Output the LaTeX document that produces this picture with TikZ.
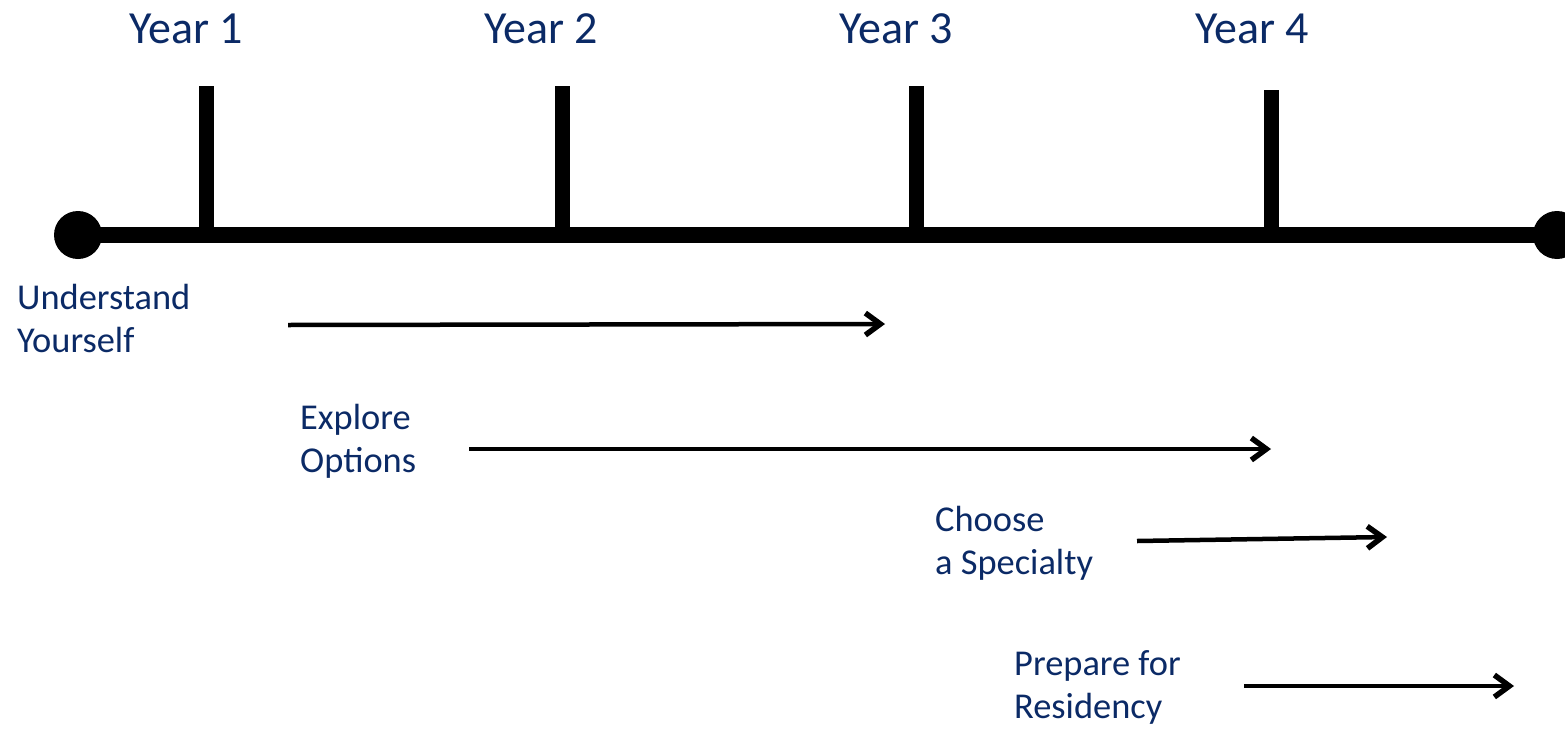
\documentclass[tikz,border=0pt]{standalone}
\usepackage{fontspec}
\setmainfont{Carlito}
\usetikzlibrary{arrows.meta}
\definecolor{navy}{HTML}{0B2A66}
\tikzset{
  axis/.style={line width=16pt},
  tick/.style={line width=15pt},
  endpt/.style={circle, fill=black, minimum size=48pt, inner sep=0pt},
  yearlbl/.style={text=navy, font=\fontsize{46}{55}\selectfont, anchor=base, inner sep=0pt},
  phase/.style={text=navy, font=\fontsize{36.4}{43}\selectfont, anchor=base west, inner sep=0pt},
  span/.style={line width=4.5pt, -{Straight Barb[length=15pt,width=22pt,line width=5.5pt]}}
}
\begin{document}
\begin{tikzpicture}[x=1pt,y=-1pt]
\useasboundingbox (0,0) rectangle (1565,728);
% axis
\node[endpt] (L) at (78,235) {};
\node[endpt] (R) at (1557,235) {};
\draw[axis] (L.center) -- (R.center);
% ticks
\coordinate (t1b) at (206,235); \coordinate (t1t) at (206,86);
\coordinate (t2b) at (562,235); \coordinate (t2t) at (562,86);
\coordinate (t3b) at (916,235); \coordinate (t3t) at (916,86);
\coordinate (t4b) at (1271,235); \coordinate (t4t) at (1271,90);
\draw[tick] (t1b) -- (t1t);
\draw[tick] (t2b) -- (t2t);
\draw[tick] (t3b) -- (t3t);
\draw[tick] (t4b) -- (t4t);
% year labels
\node[yearlbl] (y1) at (186,43) {Year 1};
\node[yearlbl] (y2) at (541,43) {Year 2};
\node[yearlbl] (y3) at (896,43) {Year 3};
\node[yearlbl] (y4) at (1252,43) {Year 4};
% phase labels
\node[phase] (p1) at (17,309) {\vtop{\hbox{Understand}\hbox{Yourself}}};
\node[phase] (p2) at (300,429) {\vtop{\hbox{Explore}\hbox{Options}}};
\node[phase] (p3) at (935,531) {\vtop{\hbox{Choose}\hbox{a Specialty}}};
\node[phase] (p4) at (1014,675) {\vtop{\hbox{Prepare for}\hbox{Residency}}};
% arrows
\coordinate (a1s) at (288,325); \coordinate (a1e) at (885,324);
\coordinate (a2s) at (469,449); \coordinate (a2e) at (1271,449);
\coordinate (a3s) at (1137,541); \coordinate (a3e) at (1387,537);
\coordinate (a4s) at (1244,686); \coordinate (a4e) at (1514,686);
\draw[span] (a1s) -- (a1e);
\draw[span] (a2s) -- (a2e);
\draw[span] (a3s) -- (a3e);
\draw[span] (a4s) -- (a4e);
\end{tikzpicture}
\end{document}
